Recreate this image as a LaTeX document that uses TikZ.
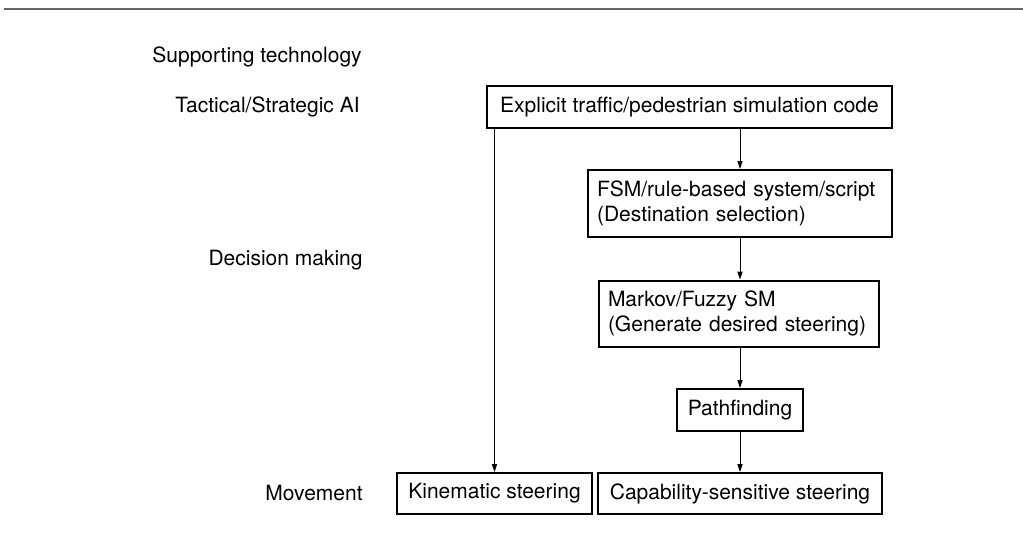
\documentclass[tikz,border=0pt]{standalone}
\usepackage{fontspec}
\setmainfont{TeX Gyre Heros}
\usetikzlibrary{arrows.meta,positioning}

\begin{document}
\begin{tikzpicture}[
  x=0.5pt,y=-0.5pt,
  every node/.style={font=\fontsize{10.5}{12.5}\selectfont},
  lbl/.style={inner sep=0pt},
  box/.style={draw,line width=1pt,inner sep=0pt,align=center},
  lbox/.style={box,align=left,inner xsep=4.5pt},
  arr/.style={-{Triangle[length=4pt,width=2.6pt]},line width=0.5pt}
]
\useasboundingbox (0,0) rectangle (1023,548);
\draw[line width=1pt,black!60] (4,9) -- (1023,9);

\node[lbl,anchor=west] (supp) at (152,57) {Supporting technology};
\node[lbl,anchor=east] (tact) at (360,107) {Tactical/Strategic AI};
\node[lbl,anchor=east] (dec) at (363,260) {Decision making};
\node[lbl,anchor=east] (mov) at (363,493) {Movement};

\node[box,minimum width=202.5pt,minimum height=21pt] (sim) at (689.5,107) {Explicit traffic/pedestrian simulation code};
\node[lbox,text width=143pt,minimum height=33.5pt] (fsm) at (740,203.5) {FSM/rule-based system/script\\(Destination selection)};
\node[lbox,text width=131pt,minimum height=33pt] (markov) at (739,313.5) {Markov/Fuzzy SM\\(Generate desired steering)};
\node[box,minimum width=63pt,minimum height=21pt] (path) at (740,410) {Pathfinding};
\node[box,minimum width=97.5pt,minimum height=20.5pt] (kin) at (494.5,493.5) {Kinematic steering};
\node[box,minimum width=142pt,minimum height=20.5pt] (cap) at (740,493.5) {Capability-sensitive steering};

\draw[arr] (sim.south -| fsm.north) -- (fsm.north);
\draw[arr] (fsm.south) -- (fsm.south |- markov.north);
\draw[arr] (markov.south -| path.north) -- (path.north);
\draw[arr] (path.south) -- (cap.north);
\draw[arr] (sim.south -| kin.north) -- (kin.north);
\end{tikzpicture}
\end{document}
